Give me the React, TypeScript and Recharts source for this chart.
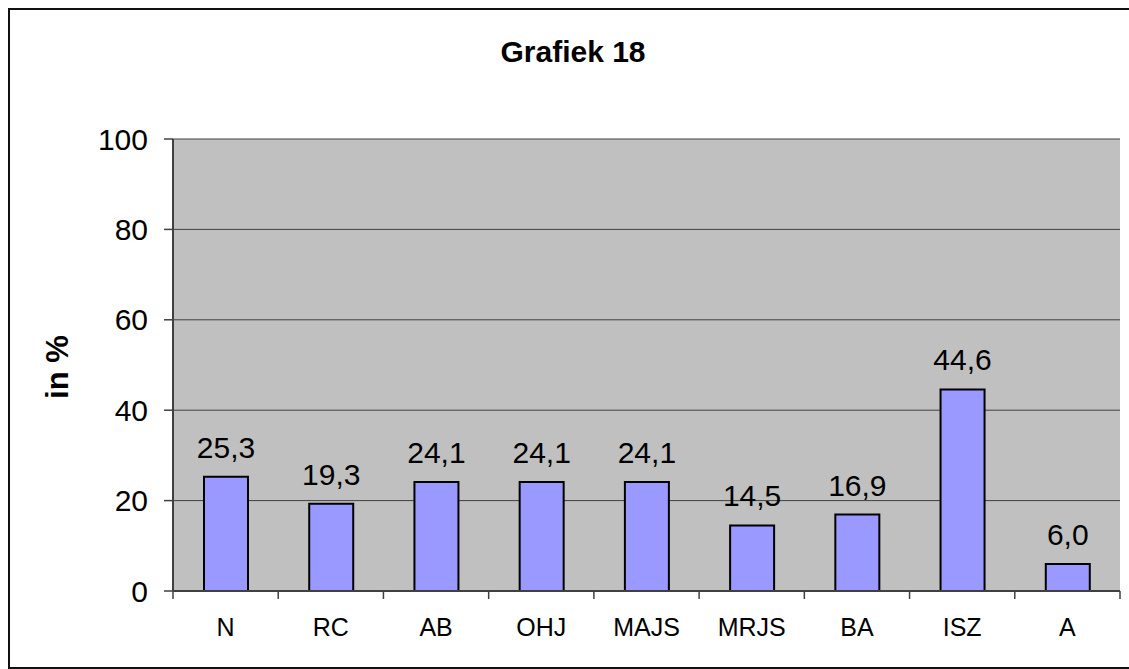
import React from 'react';
import { BarChart, Bar, XAxis, YAxis, CartesianGrid, LabelList } from 'recharts';

const categories = ['N', 'RC', 'AB', 'OHJ', 'MAJS', 'MRJS', 'BA', 'ISZ', 'A'];
const values = [25.3, 19.3, 24.1, 24.1, 24.1, 14.5, 16.9, 44.6, 6.0];
const yTicks = [0, 20, 40, 60, 80, 100];
const title = 'Grafiek 18';
const yLabel = 'in %';

const data = categories.map((c, i) => ({ name: c, value: values[i] }));

const FONT = '"Liberation Sans", Arial, sans-serif';
const CHART_W = 1119;
const CHART_H = 657;
const M = { top: 129, right: 9, left: 0, bottom: 0 };
const Y_W = 163;
const X_H = 76;
const PLOT_W = CHART_W - M.right - Y_W;
const HALF_BAND = PLOT_W / categories.length / 2;
const X_TICK_GAP = 27;

const XTick = (props: any) => {
  const { x, y, payload, index } = props;
  const axisY = y - X_TICK_GAP;
  return (
    <g>
      <line x1={x - HALF_BAND} x2={x - HALF_BAND} y1={axisY} y2={axisY + 8} stroke="#404040" strokeWidth={1.5} />
      {index === categories.length - 1 && (
        <line x1={x + HALF_BAND} x2={x + HALF_BAND} y1={axisY} y2={axisY + 8} stroke="#404040" strokeWidth={1.5} />
      )}
      <text x={x} y={y} dy="0.71em" textAnchor="middle" fontSize={25} fill="#000" fontFamily={FONT}>
        {payload.value}
      </text>
    </g>
  );
};

const fmt = (v: any) => Number(v).toFixed(1).replace('.', ',');

export default function App() {
  return (
    <div
      style={{
        position: 'fixed',
        left: 8,
        top: 8,
        width: 1123,
        height: 661,
        border: '2px solid #111',
        boxSizing: 'border-box',
        background: '#fff',
      }}
    >
      <BarChart width={CHART_W} height={CHART_H} data={data} margin={M}>
        <CartesianGrid vertical={false} fill="#C0C0C0" stroke="#404040" strokeWidth={1} />
        <XAxis
          dataKey="name"
          height={X_H}
          axisLine={{ stroke: '#404040', strokeWidth: 2 }}
          tickLine={false}
          tickSize={0}
          tickMargin={X_TICK_GAP}
          tick={<XTick />}
          interval={0}
        />
        <YAxis
          width={Y_W}
          domain={[0, 100]}
          ticks={yTicks}
          axisLine={{ stroke: '#404040', strokeWidth: 2 }}
          tickLine={{ stroke: '#404040', strokeWidth: 1.5 }}
          tickSize={9}
          tickMargin={16}
          tick={{ fontSize: 30, fill: '#000', fontFamily: FONT }}
        />
        <YAxis
          yAxisId="right"
          orientation="right"
          width={0}
          domain={[0, 100]}
          tick={false}
          tickLine={false}
          axisLine={{ stroke: '#808080', strokeWidth: 1.5 }}
        />
        <Bar dataKey="value" fill="#9999FF" stroke="#000" strokeWidth={2} barSize={44} isAnimationActive={false}>
          <LabelList
            dataKey="value"
            position="top"
            offset={19}
            formatter={fmt}
            style={{ fontSize: 30, fill: '#000', fontFamily: FONT }}
          />
        </Bar>
      </BarChart>
      <svg
        width={CHART_W}
        height={CHART_H}
        style={{ position: 'absolute', left: 0, top: 0, pointerEvents: 'none' }}
      >
        <text x={563} y={52} textAnchor="middle" fontSize={30} fontWeight="bold" fill="#000" fontFamily={FONT}>
          {title}
        </text>
        <text
          x={47}
          y={357}
          transform="rotate(-90, 47, 357)"
          textAnchor="middle"
          dominantBaseline="central"
          fontSize={31}
          fontWeight="bold"
          fill="#000"
          fontFamily={FONT}
        >
          {yLabel}
        </text>
      </svg>
    </div>
  );
}
